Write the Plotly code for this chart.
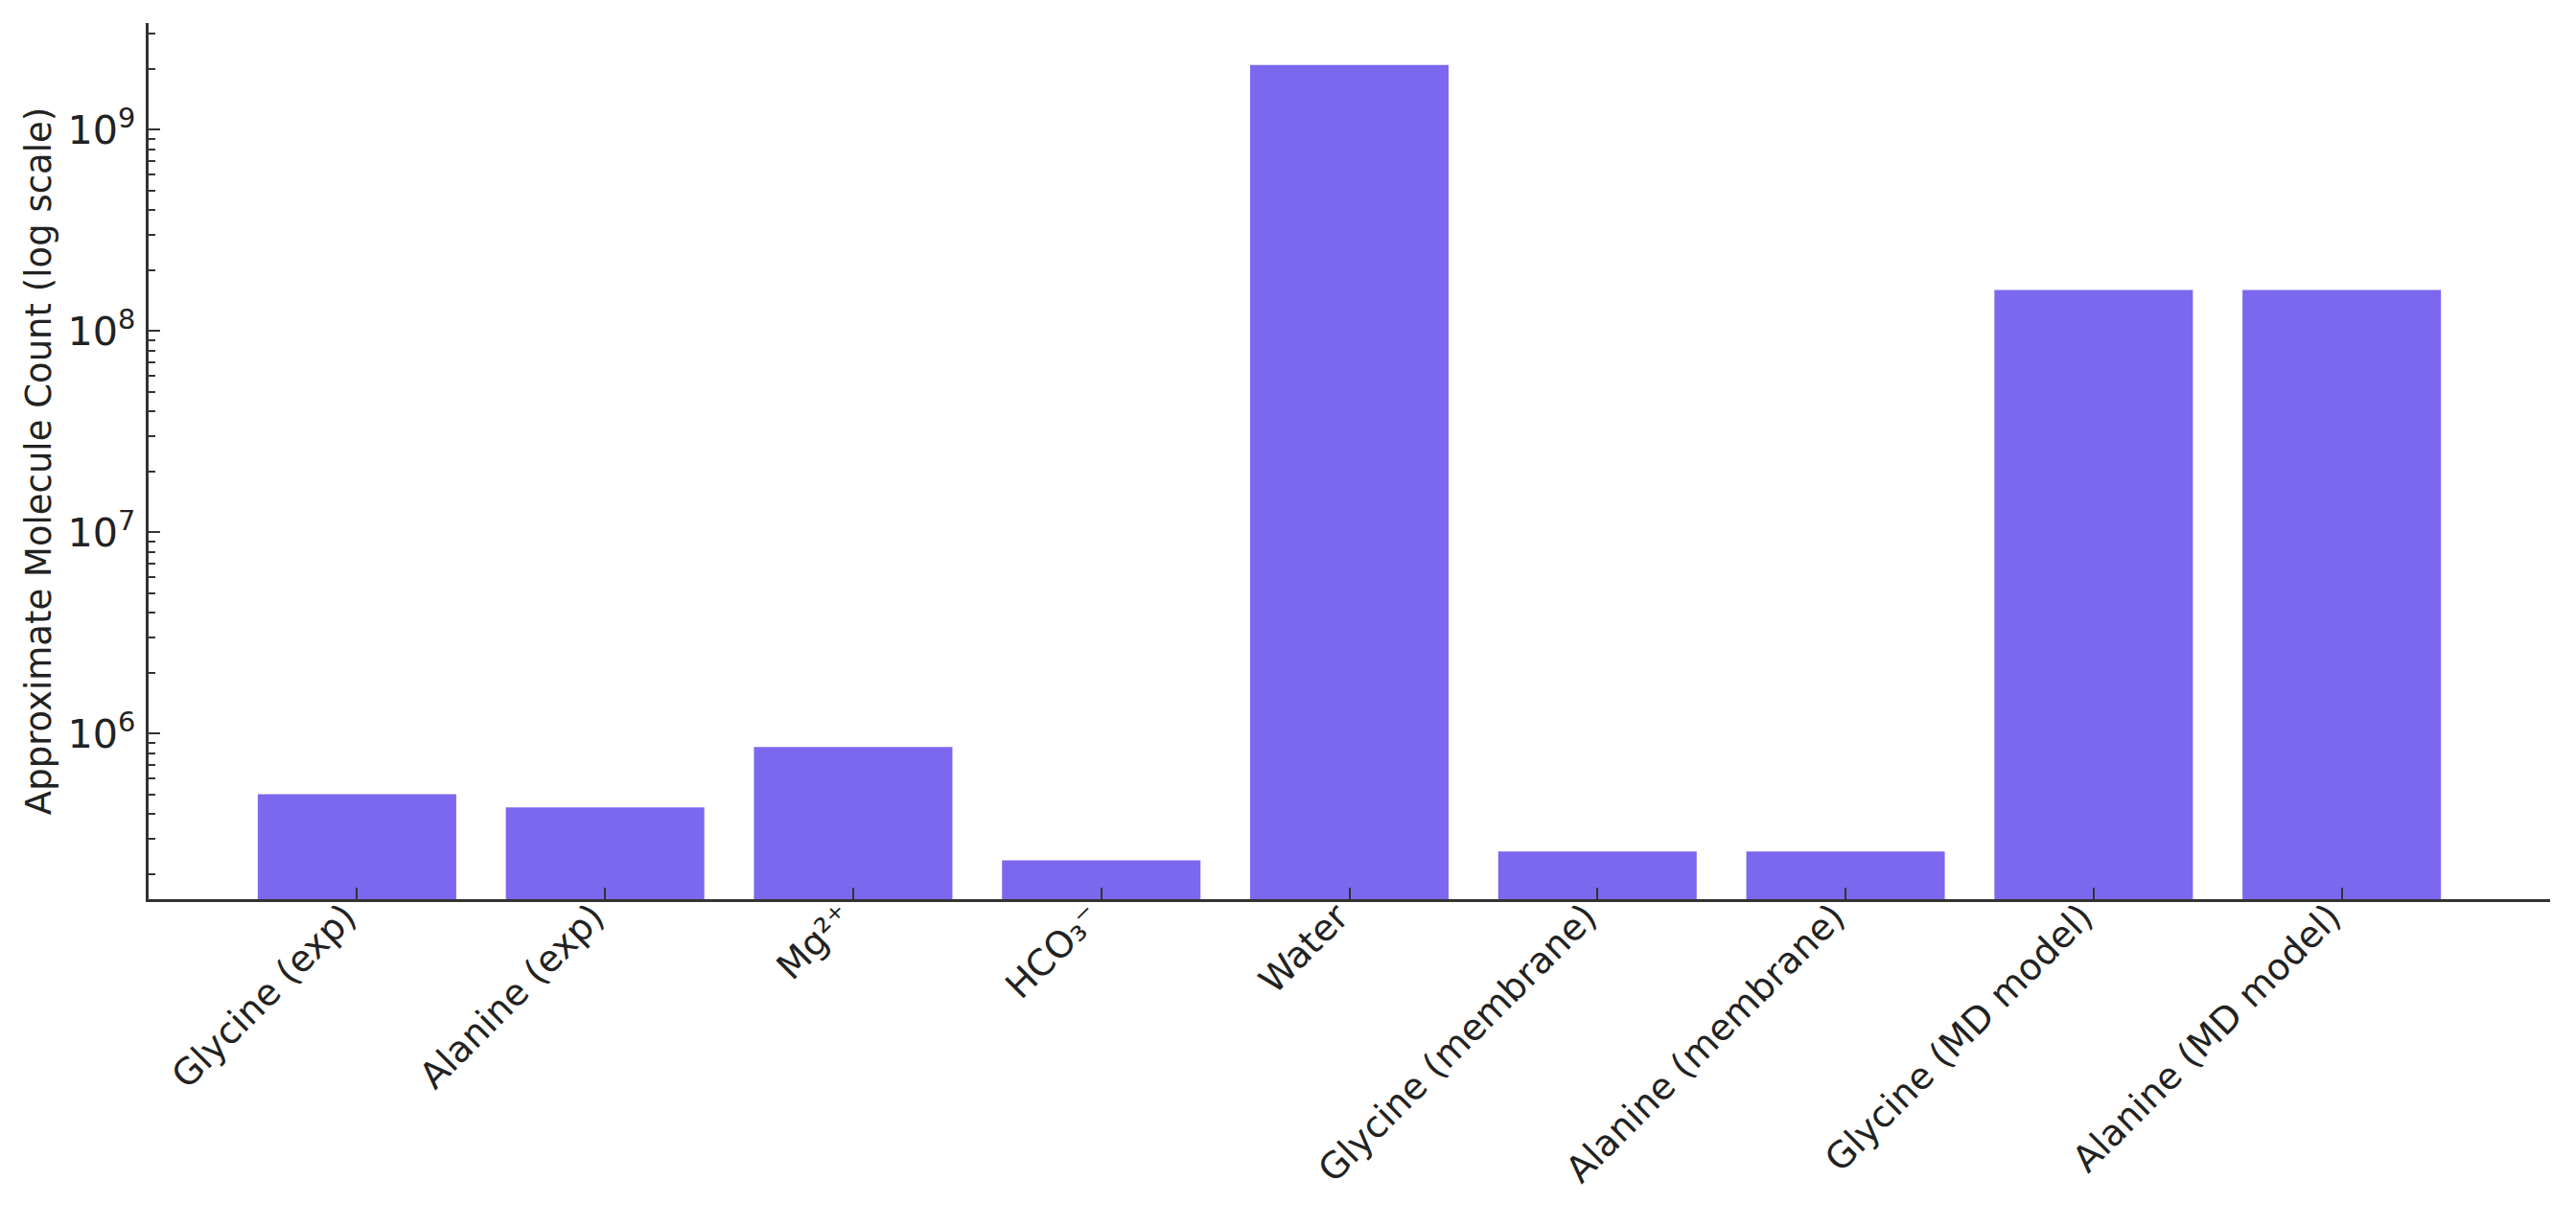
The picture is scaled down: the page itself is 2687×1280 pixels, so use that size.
import plotly.graph_objects as go

# данные
categories = [
    "Glycine (exp)",
    "Alanine (exp)",
    "Mg²⁺",
    "HCO₃⁻",
    "Water",
    "Glycine (membrane)",
    "Alanine (membrane)",
    "Glycine (MD model)",
    "Alanine (MD model)",
]
counts = [5.0e5, 4.3e5, 8.6e5, 2.35e5, 2.1e9, 2.6e5, 2.6e5, 1.6e8, 1.6e8]

bar_color = "#7b68ee"
axis_color = "#333333"
text_color = "#222222"
font_family = "DejaVu Sans"

fig = go.Figure()
fig.add_trace(go.Bar(
    x=categories,
    y=counts,
    marker=dict(color=bar_color, line=dict(width=0)),
    width=0.8,
))

# страница имеет отступ 8px, поэтому размеры чуть меньше окна
fig.update_layout(
    width=2679,
    height=1272,
    margin=dict(l=147, r=27, t=16, b=342),
    plot_bgcolor="white",
    paper_bgcolor="white",
    showlegend=False,
    font=dict(family=font_family, size=34, color=text_color),
)

fig.update_xaxes(
    range=[-0.84, 8.84],
    automargin=False,
    showline=True,
    linecolor=axis_color,
    linewidth=3,
    ticks="inside",
    ticklen=12,
    tickwidth=2,
    tickcolor=axis_color,
    tickangle=-45,
    ticklabelstandoff=-22,
    ticklabelshift=-12,
    tickfont=dict(size=38, color=text_color),
    showgrid=False,
    zeroline=False,
)

fig.update_yaxes(
    type="log",
    range=[5.178, 9.531],
    automargin=False,
    dtick=1,
    exponentformat="power",
    showline=True,
    linecolor=axis_color,
    linewidth=3,
    ticks="inside",
    ticklen=12,
    tickwidth=2,
    tickcolor=axis_color,
    ticklabelstandoff=4,
    tickfont=dict(size=33, color=text_color),
    minor=dict(ticks="inside", ticklen=7, tickwidth=1.5, tickcolor=axis_color, dtick="D1", showgrid=False),
    showgrid=False,
    zeroline=False,
    title=dict(text="Approximate Molecule Count (log scale)", font=dict(size=37, color=text_color), standoff=6),
)

fig.write_html("out.html")
